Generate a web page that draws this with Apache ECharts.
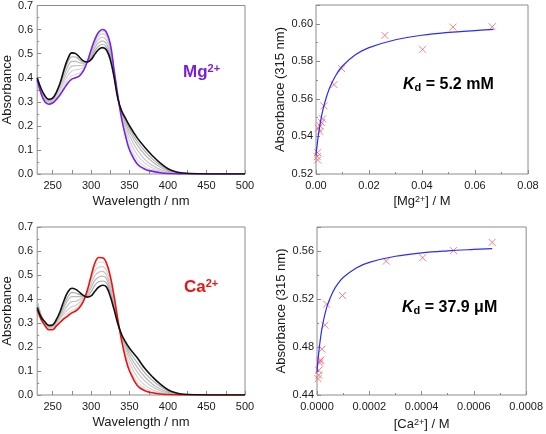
<!DOCTYPE html>
<html>
<head>
<meta charset="utf-8">
<script src="https://cdn.jsdelivr.net/npm/echarts@6/dist/echarts.min.js"></script>
<style>
html, body { margin: 0; padding: 0; background: #fff; }
#chart { width: 546px; height: 434px; }
</style>
</head>
<body>
<div id="chart"></div>
<script>
// wavelengths (nm) the spectra were read at
const wavelengths = [230, 235, 240, 245, 250, 255, 260, 265, 270, 275, 280, 285, 290, 295, 300, 305, 310, 315, 320, 325, 330, 335, 340, 345, 350, 360, 370, 380, 390, 400, 410, 420, 440, 470, 500]

// Mg2+ titration spectra: first (no metal), grey steps, last
const mgFirst = [0.39, 0.335, 0.30, 0.29, 0.295, 0.31, 0.33, 0.355, 0.378, 0.394, 0.40, 0.408, 0.428, 0.465, 0.515, 0.56, 0.59, 0.60, 0.588, 0.54, 0.43, 0.32, 0.225, 0.155, 0.10, 0.042, 0.02, 0.011, 0.005, 0.002, 0.001, 0, 0, 0, 0]
const mgStep1 = [0.39, 0.337, 0.305, 0.293, 0.298, 0.316, 0.34, 0.367, 0.392, 0.408, 0.414, 0.42, 0.435, 0.468, 0.513, 0.555, 0.583, 0.593, 0.581, 0.535, 0.428, 0.32, 0.232, 0.168, 0.118, 0.06, 0.03, 0.016, 0.008, 0.003, 0.001, 0, 0, 0, 0]
const mgStep2 = [0.39, 0.34, 0.31, 0.297, 0.302, 0.322, 0.35, 0.38, 0.41, 0.428, 0.433, 0.435, 0.445, 0.468, 0.508, 0.548, 0.574, 0.583, 0.571, 0.525, 0.423, 0.318, 0.24, 0.183, 0.138, 0.08, 0.045, 0.025, 0.012, 0.005, 0.002, 0.001, 0, 0, 0]
const mgStep3 = [0.395, 0.345, 0.315, 0.30, 0.306, 0.33, 0.36, 0.395, 0.428, 0.448, 0.45, 0.45, 0.453, 0.467, 0.50, 0.538, 0.561, 0.568, 0.556, 0.513, 0.418, 0.316, 0.246, 0.198, 0.158, 0.10, 0.06, 0.035, 0.018, 0.008, 0.003, 0.001, 0, 0, 0]
const mgStep4 = [0.395, 0.348, 0.318, 0.304, 0.31, 0.335, 0.372, 0.41, 0.448, 0.468, 0.468, 0.462, 0.46, 0.466, 0.49, 0.525, 0.546, 0.553, 0.541, 0.50, 0.412, 0.314, 0.252, 0.21, 0.175, 0.12, 0.08, 0.05, 0.028, 0.013, 0.005, 0.002, 0, 0, 0]
const mgStep5 = [0.40, 0.352, 0.322, 0.307, 0.312, 0.338, 0.377, 0.425, 0.466, 0.487, 0.486, 0.474, 0.465, 0.465, 0.483, 0.512, 0.532, 0.538, 0.527, 0.488, 0.405, 0.312, 0.256, 0.22, 0.188, 0.135, 0.095, 0.062, 0.036, 0.017, 0.007, 0.003, 0.001, 0, 0]
const mgLast = [0.40, 0.355, 0.325, 0.31, 0.315, 0.34, 0.38, 0.435, 0.48, 0.503, 0.50, 0.485, 0.47, 0.465, 0.475, 0.498, 0.518, 0.525, 0.515, 0.475, 0.40, 0.31, 0.26, 0.23, 0.20, 0.15, 0.11, 0.075, 0.045, 0.022, 0.009, 0.004, 0.001, 0, 0]

// Ca2+ titration spectra
const caFirst = [0.355, 0.315, 0.29, 0.272, 0.272, 0.288, 0.303, 0.318, 0.33, 0.342, 0.35, 0.365, 0.39, 0.435, 0.495, 0.55, 0.573, 0.572, 0.55, 0.495, 0.41, 0.31, 0.222, 0.15, 0.10, 0.04, 0.018, 0.009, 0.004, 0.002, 0.001, 0, 0, 0, 0]
const caStep1 = [0.37, 0.322, 0.295, 0.275, 0.276, 0.292, 0.31, 0.326, 0.341, 0.353, 0.36, 0.375, 0.398, 0.435, 0.488, 0.532, 0.553, 0.554, 0.536, 0.485, 0.398, 0.305, 0.228, 0.162, 0.115, 0.055, 0.028, 0.014, 0.006, 0.003, 0.001, 0, 0, 0, 0]
const caStep2 = [0.38, 0.328, 0.298, 0.278, 0.28, 0.298, 0.32, 0.338, 0.356, 0.368, 0.373, 0.386, 0.405, 0.432, 0.478, 0.517, 0.533, 0.535, 0.518, 0.47, 0.39, 0.302, 0.233, 0.175, 0.132, 0.075, 0.04, 0.022, 0.01, 0.005, 0.002, 0, 0, 0, 0]
const caStep3 = [0.39, 0.332, 0.30, 0.282, 0.284, 0.302, 0.325, 0.35, 0.375, 0.389, 0.39, 0.398, 0.41, 0.425, 0.462, 0.497, 0.512, 0.515, 0.50, 0.455, 0.38, 0.298, 0.238, 0.19, 0.152, 0.095, 0.058, 0.033, 0.017, 0.008, 0.003, 0.001, 0, 0, 0]
const caStep4 = [0.39, 0.334, 0.302, 0.285, 0.287, 0.307, 0.332, 0.365, 0.395, 0.41, 0.41, 0.41, 0.412, 0.418, 0.447, 0.478, 0.492, 0.495, 0.485, 0.44, 0.37, 0.296, 0.243, 0.202, 0.167, 0.115, 0.075, 0.045, 0.025, 0.012, 0.005, 0.002, 0, 0, 0]
const caStep5 = [0.38, 0.33, 0.304, 0.288, 0.29, 0.31, 0.34, 0.378, 0.41, 0.428, 0.425, 0.418, 0.414, 0.413, 0.43, 0.458, 0.472, 0.475, 0.467, 0.425, 0.362, 0.295, 0.247, 0.212, 0.18, 0.135, 0.092, 0.06, 0.035, 0.017, 0.007, 0.003, 0.001, 0, 0]
const caLast = [0.365, 0.325, 0.305, 0.29, 0.292, 0.315, 0.35, 0.395, 0.43, 0.445, 0.44, 0.428, 0.415, 0.408, 0.413, 0.432, 0.45, 0.457, 0.45, 0.41, 0.355, 0.295, 0.25, 0.22, 0.195, 0.155, 0.11, 0.075, 0.045, 0.022, 0.009, 0.003, 0.001, 0, 0]

// binding data, absorbance at 315 nm
const mgConc = [0.0665, 0.0517, 0.0402, 0.026, 0.0097, 0.0068, 0.003, 0.0025, 0.0021, 0.0015, 0.0009, 0.0015, 0.0006, 0.0005, 0.0006]
const mgAbs = [0.5984, 0.5982, 0.5864, 0.5938, 0.5761, 0.5676, 0.5563, 0.5494, 0.5474, 0.5457, 0.5444, 0.5426, 0.5314, 0.5292, 0.5275]
const mgFitConc = [0, 0.0005, 0.001, 0.002, 0.003, 0.005, 0.0075, 0.01, 0.015, 0.02, 0.03, 0.04, 0.05, 0.06, 0.067]
const mgFitAbs = [0.530, 0.5363, 0.5417, 0.5501, 0.5564, 0.5654, 0.5726, 0.5775, 0.5836, 0.5873, 0.5915, 0.5939, 0.5954, 0.5964, 0.5970]

const caConc = [0.00067, 0.000522, 0.000404, 0.000265, 0.0000975, 0.0000368, 0.0000304, 0.000019, 0.000014, 0.00001, 0.000012, 0.0000065, 0.0000065, 0.000004]
const caAbs = [0.5672, 0.5603, 0.5544, 0.5516, 0.5229, 0.5157, 0.4982, 0.4782, 0.469, 0.4667, 0.4685, 0.4606, 0.4565, 0.4536]
const caFitConc = [0, 0.000002, 0.000005, 0.00001, 0.000015, 0.00002, 0.00003, 0.00004, 0.00006, 0.00008, 0.0001, 0.00015, 0.0002, 0.0003, 0.0004, 0.0005, 0.0006, 0.00067]
const caFitAbs = [0.459, 0.4645, 0.4717, 0.4817, 0.4899, 0.4966, 0.5071, 0.5149, 0.5257, 0.5328, 0.5379, 0.5459, 0.5505, 0.5556, 0.5584, 0.5601, 0.5613, 0.5620]

const wlLabels = [250, 300, 350, 400, 450, 500]
const wlTicks = [250, 275, 300, 325, 350, 375, 400, 425, 450, 475, 500]

const FONT = 'Liberation Sans, Arial, sans-serif'
const FRAME = '#8c8c8c'
const TEXT = '#1a1a1a'

const chart = echarts.init(document.getElementById('chart'), null, { renderer: 'canvas' })

function pairs(xs, ys) {
  return xs.map((x, i) => [x, ys[i]])
}

function spectrum(values, color, width, idx) {
  return {
    type: 'line',
    xAxisIndex: idx,
    yAxisIndex: idx,
    data: pairs(wavelengths, values),
    smooth: 0.4,
    symbol: 'none',
    lineStyle: { color: color, width: width },
    silent: true
  }
}

function baseAxis(idx) {
  return {
    type: 'value',
    gridIndex: idx,
    axisLine: { show: false },
    axisTick: { inside: true, length: 4, lineStyle: { color: FRAME } },
    minorTick: { show: true, splitNumber: 2, length: 2, lineStyle: { color: FRAME } },
    splitLine: { show: false },
    axisLabel: { color: TEXT, fontSize: 11, fontFamily: FONT, margin: 6 },
    nameLocation: 'middle',
    nameTextStyle: {
      color: TEXT, fontSize: 13, fontFamily: FONT,
      rich: { sup: { fontSize: 9, fontFamily: FONT, color: TEXT, verticalAlign: 'top', lineHeight: 10 } }
    }
  }
}

function wlAxis(idx) {
  const a = baseAxis(idx)
  a.min = 230
  a.max = 500
  a.name = 'Wavelength / nm'
  a.nameGap = 21
  a.minorTick = { show: false }
  a.axisTick.customValues = wlTicks
  a.axisLabel.customValues = wlLabels
  return a
}

function absAxis(idx) {
  const a = baseAxis(idx)
  a.min = 0
  a.max = 0.7
  a.interval = 0.1
  a.name = 'Absorbance'
  a.nameGap = 20
  a.axisLabel.formatter = v => v.toFixed(1)
  a.axisLabel.margin = 4
  return a
}

const xMg = baseAxis(1)
Object.assign(xMg, { min: 0, max: 0.08, interval: 0.02, name: '[Mg{sup|2+}] / M', nameGap: 21 })
xMg.axisLabel.formatter = v => v.toFixed(2)

const yMg = baseAxis(1)
Object.assign(yMg, { min: 0.52, max: 0.61, interval: 0.02, name: 'Absorbance (315 nm)', nameGap: 29 })
yMg.axisLabel.formatter = v => v.toFixed(2)
yMg.axisLabel.showMaxLabel = false
yMg.axisLabel.margin = 3

const xCa = baseAxis(3)
Object.assign(xCa, { min: 0, max: 0.0008, interval: 0.0002, name: '[Ca{sup|2+}] / M', nameGap: 23 })
xCa.axisLabel.formatter = v => v.toFixed(4)

const yCa = baseAxis(3)
Object.assign(yCa, { min: 0.44, max: 0.58, interval: 0.04, name: 'Absorbance (315 nm)', nameGap: 29 })
yCa.axisLabel.formatter = v => v.toFixed(2)
yCa.axisLabel.showMaxLabel = false
yCa.axisLabel.margin = 3

const grayShades = ['#dedede', '#d2d2d2', '#c6c6c6', '#bababa', '#adadad']

function crosses(xs, ys, idx) {
  return {
    type: 'scatter',
    xAxisIndex: idx,
    yAxisIndex: idx,
    data: pairs(xs, ys),
    symbol: 'path://M0,0L10,10M10,0L0,10',
    symbolSize: 7,
    itemStyle: { color: 'none', borderColor: '#ff5e5e', borderWidth: 1 },
    silent: true
  }
}

function fitLine(xs, ys, idx) {
  return {
    type: 'line',
    xAxisIndex: idx,
    yAxisIndex: idx,
    data: pairs(xs, ys),
    smooth: 0.4,
    symbol: 'none',
    lineStyle: { color: '#2a2aff', width: 1.2 },
    silent: true
  }
}

function ionLabel(left, top, ion, color) {
  return {
    type: 'text',
    left: left,
    top: top,
    style: {
      text: '{m|' + ion + '}{s|2+}',
      rich: {
        m: { fontSize: 17, fontWeight: 'bold', fontFamily: FONT, fill: color, lineHeight: 18 },
        s: { fontSize: 11, fontWeight: 'bold', fontFamily: FONT, fill: color, verticalAlign: 'top', lineHeight: 12 }
      }
    }
  }
}

function kdLabel(left, top, value) {
  return {
    type: 'text',
    left: left,
    top: top,
    style: {
      text: '{k|K}{d|d}{t| = ' + value + '}',
      rich: {
        k: { fontSize: 16, fontWeight: 'bold', fontStyle: 'italic', fontFamily: FONT, fill: '#000', lineHeight: 17 },
        d: { fontSize: 11, fontWeight: 'bold', fontFamily: FONT, fill: '#000', verticalAlign: 'bottom', lineHeight: 7 },
        t: { fontSize: 16, fontWeight: 'bold', fontFamily: FONT, fill: '#000', lineHeight: 17 }
      }
    }
  }
}

const gridStyle = { show: true, borderColor: FRAME, borderWidth: 1, backgroundColor: '#fff' }

const option = {
  animation: false,
  backgroundColor: '#fff',
  grid: [
    Object.assign({ left: 34, top: 5, width: 211, height: 169 }, gridStyle),
    Object.assign({ left: 316, top: 5, width: 212, height: 169 }, gridStyle),
    Object.assign({ left: 34, top: 227, width: 211, height: 168 }, gridStyle),
    Object.assign({ left: 317, top: 227, width: 211, height: 168 }, gridStyle)
  ],
  xAxis: [wlAxis(0), xMg, wlAxis(2), xCa],
  yAxis: [absAxis(0), yMg, absAxis(2), yCa],
  series: [
    spectrum(mgStep1, grayShades[0], 1.2, 0),
    spectrum(mgStep2, grayShades[1], 1.2, 0),
    spectrum(mgStep3, grayShades[2], 1.2, 0),
    spectrum(mgStep4, grayShades[3], 1.2, 0),
    spectrum(mgStep5, grayShades[4], 1.2, 0),
    spectrum(mgFirst, '#7a22e6', 1.6, 0),
    spectrum(mgLast, '#111111', 1.6, 0),
    crosses(mgConc, mgAbs, 1),
    fitLine(mgFitConc, mgFitAbs, 1),
    spectrum(caStep1, grayShades[0], 1.2, 2),
    spectrum(caStep2, grayShades[1], 1.2, 2),
    spectrum(caStep3, grayShades[2], 1.2, 2),
    spectrum(caStep4, grayShades[3], 1.2, 2),
    spectrum(caStep5, grayShades[4], 1.2, 2),
    spectrum(caFirst, '#ee1111', 1.6, 2),
    spectrum(caLast, '#111111', 1.6, 2),
    crosses(caConc, caAbs, 3),
    fitLine(caFitConc, caFitAbs, 3)
  ],
  graphic: [
    ionLabel(183, 63, 'Mg', '#7a1fd8'),
    ionLabel(184, 278, 'Ca', '#ee1111'),
    kdLabel(403, 77, '5.2 mM'),
    kdLabel(402, 300, '37.9 μM')
  ]
}

chart.setOption(option)
</script>
</body>
</html>
